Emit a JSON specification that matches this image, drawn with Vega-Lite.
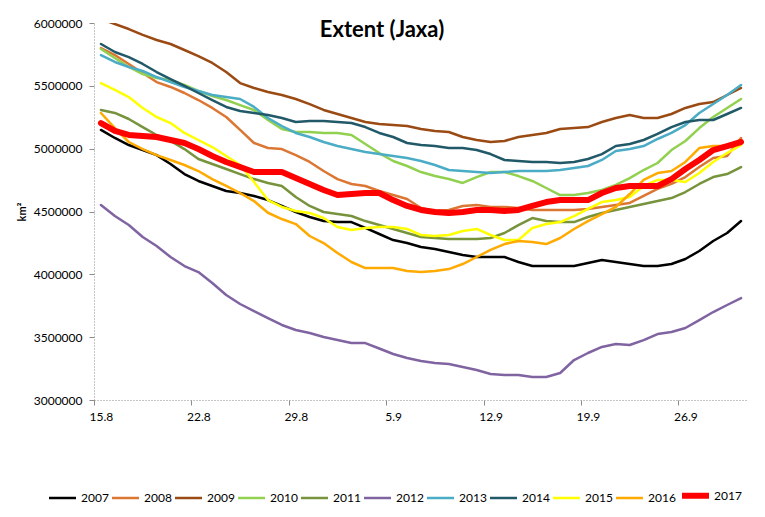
{
  "$schema": "https://vega.github.io/schema/vega-lite/v6.json",
  "width": 654,
  "height": 377,
  "autosize": {"type": "none"},
  "padding": {"left": 94, "top": 23, "right": 17, "bottom": 117},
  "background": "white",
  "title": {
    "text": "Extent (Jaxa)",
    "font": "Lato",
    "fontSize": 22,
    "fontWeight": "bold",
    "color": "#000000",
    "anchor": "middle",
    "frame": "group",
    "baseline": "alphabetic",
    "offset": 0,
    "dx": -39,
    "dy": 42
  },
  "config": {
    "view": {"stroke": null},
    "font": "Lato"
  },
  "datasets": {
    "extent": [
      {"year":"2007","day":0,"extent":5149000},{"year":"2007","day":1,"extent":5085000},{"year":"2007","day":2,"extent":5029000},{"year":"2007","day":3,"extent":4989000},{"year":"2007","day":4,"extent":4949000},{"year":"2007","day":5,"extent":4878000},{"year":"2007","day":6,"extent":4798000},{"year":"2007","day":7,"extent":4743000},{"year":"2007","day":8,"extent":4703000},{"year":"2007","day":9,"extent":4663000},
      {"year":"2007","day":10,"extent":4647000},{"year":"2007","day":11,"extent":4623000},{"year":"2007","day":12,"extent":4591000},{"year":"2007","day":13,"extent":4544000},{"year":"2007","day":14,"extent":4496000},{"year":"2007","day":15,"extent":4456000},{"year":"2007","day":16,"extent":4424000},{"year":"2007","day":17,"extent":4416000},{"year":"2007","day":18,"extent":4416000},{"year":"2007","day":19,"extent":4369000},
      {"year":"2007","day":20,"extent":4321000},{"year":"2007","day":21,"extent":4273000},{"year":"2007","day":22,"extent":4249000},{"year":"2007","day":23,"extent":4217000},{"year":"2007","day":24,"extent":4202000},{"year":"2007","day":25,"extent":4178000},{"year":"2007","day":26,"extent":4154000},{"year":"2007","day":27,"extent":4138000},{"year":"2007","day":28,"extent":4138000},{"year":"2007","day":29,"extent":4138000},
      {"year":"2007","day":30,"extent":4098000},{"year":"2007","day":31,"extent":4066000},{"year":"2007","day":32,"extent":4066000},{"year":"2007","day":33,"extent":4066000},{"year":"2007","day":34,"extent":4066000},{"year":"2007","day":35,"extent":4090000},{"year":"2007","day":36,"extent":4114000},{"year":"2007","day":37,"extent":4098000},{"year":"2007","day":38,"extent":4082000},{"year":"2007","day":39,"extent":4066000},
      {"year":"2007","day":40,"extent":4066000},{"year":"2007","day":41,"extent":4082000},{"year":"2007","day":42,"extent":4122000},{"year":"2007","day":43,"extent":4186000},{"year":"2007","day":44,"extent":4265000},{"year":"2007","day":45,"extent":4329000},{"year":"2007","day":46,"extent":4424000},

      {"year":"2008","day":0,"extent":5801000},{"year":"2008","day":1,"extent":5745000},{"year":"2008","day":2,"extent":5674000},{"year":"2008","day":3,"extent":5602000},{"year":"2008","day":4,"extent":5530000},{"year":"2008","day":5,"extent":5491000},{"year":"2008","day":6,"extent":5443000},{"year":"2008","day":7,"extent":5387000},{"year":"2008","day":8,"extent":5324000},{"year":"2008","day":9,"extent":5252000},
      {"year":"2008","day":10,"extent":5149000},{"year":"2008","day":11,"extent":5045000},{"year":"2008","day":12,"extent":5005000},{"year":"2008","day":13,"extent":4997000},{"year":"2008","day":14,"extent":4949000},{"year":"2008","day":15,"extent":4894000},{"year":"2008","day":16,"extent":4822000},{"year":"2008","day":17,"extent":4758000},{"year":"2008","day":18,"extent":4719000},{"year":"2008","day":19,"extent":4703000},
      {"year":"2008","day":20,"extent":4663000},{"year":"2008","day":21,"extent":4631000},{"year":"2008","day":22,"extent":4599000},{"year":"2008","day":23,"extent":4528000},{"year":"2008","day":24,"extent":4504000},{"year":"2008","day":25,"extent":4512000},{"year":"2008","day":26,"extent":4544000},{"year":"2008","day":27,"extent":4552000},{"year":"2008","day":28,"extent":4536000},{"year":"2008","day":29,"extent":4536000},
      {"year":"2008","day":30,"extent":4528000},{"year":"2008","day":31,"extent":4512000},{"year":"2008","day":32,"extent":4512000},{"year":"2008","day":33,"extent":4512000},{"year":"2008","day":34,"extent":4512000},{"year":"2008","day":35,"extent":4520000},{"year":"2008","day":36,"extent":4536000},{"year":"2008","day":37,"extent":4552000},{"year":"2008","day":38,"extent":4568000},{"year":"2008","day":39,"extent":4625000},
      {"year":"2008","day":40,"extent":4680000},{"year":"2008","day":41,"extent":4720000},{"year":"2008","day":42,"extent":4774000},{"year":"2008","day":43,"extent":4854000},{"year":"2008","day":44,"extent":4926000},{"year":"2008","day":45,"extent":4942000},{"year":"2008","day":46,"extent":5085000},

      {"year":"2009","day":0,"extent":6032000},{"year":"2009","day":1,"extent":5992000},{"year":"2009","day":2,"extent":5952000},{"year":"2009","day":3,"extent":5905000},{"year":"2009","day":4,"extent":5865000},{"year":"2009","day":5,"extent":5833000},{"year":"2009","day":6,"extent":5785000},{"year":"2009","day":7,"extent":5737000},{"year":"2009","day":8,"extent":5682000},{"year":"2009","day":9,"extent":5610000},
      {"year":"2009","day":10,"extent":5522000},{"year":"2009","day":11,"extent":5483000},{"year":"2009","day":12,"extent":5451000},{"year":"2009","day":13,"extent":5427000},{"year":"2009","day":14,"extent":5395000},{"year":"2009","day":15,"extent":5355000},{"year":"2009","day":16,"extent":5308000},{"year":"2009","day":17,"extent":5276000},{"year":"2009","day":18,"extent":5244000},{"year":"2009","day":19,"extent":5212000},
      {"year":"2009","day":20,"extent":5196000},{"year":"2009","day":21,"extent":5188000},{"year":"2009","day":22,"extent":5180000},{"year":"2009","day":23,"extent":5157000},{"year":"2009","day":24,"extent":5141000},{"year":"2009","day":25,"extent":5133000},{"year":"2009","day":26,"extent":5093000},{"year":"2009","day":27,"extent":5069000},{"year":"2009","day":28,"extent":5053000},{"year":"2009","day":29,"extent":5061000},
      {"year":"2009","day":30,"extent":5093000},{"year":"2009","day":31,"extent":5109000},{"year":"2009","day":32,"extent":5125000},{"year":"2009","day":33,"extent":5157000},{"year":"2009","day":34,"extent":5164000},{"year":"2009","day":35,"extent":5172000},{"year":"2009","day":36,"extent":5212000},{"year":"2009","day":37,"extent":5244000},{"year":"2009","day":38,"extent":5268000},{"year":"2009","day":39,"extent":5244000},
      {"year":"2009","day":40,"extent":5244000},{"year":"2009","day":41,"extent":5276000},{"year":"2009","day":42,"extent":5324000},{"year":"2009","day":43,"extent":5355000},{"year":"2009","day":44,"extent":5371000},{"year":"2009","day":45,"extent":5427000},{"year":"2009","day":46,"extent":5483000},

      {"year":"2010","day":0,"extent":5793000},{"year":"2010","day":1,"extent":5721000},{"year":"2010","day":2,"extent":5650000},{"year":"2010","day":3,"extent":5594000},{"year":"2010","day":4,"extent":5562000},{"year":"2010","day":5,"extent":5546000},{"year":"2010","day":6,"extent":5507000},{"year":"2010","day":7,"extent":5459000},{"year":"2010","day":8,"extent":5419000},{"year":"2010","day":9,"extent":5387000},
      {"year":"2010","day":10,"extent":5347000},{"year":"2010","day":11,"extent":5308000},{"year":"2010","day":12,"extent":5228000},{"year":"2010","day":13,"extent":5157000},{"year":"2010","day":14,"extent":5133000},{"year":"2010","day":15,"extent":5133000},{"year":"2010","day":16,"extent":5125000},{"year":"2010","day":17,"extent":5125000},{"year":"2010","day":18,"extent":5109000},{"year":"2010","day":19,"extent":5037000},
      {"year":"2010","day":20,"extent":4965000},{"year":"2010","day":21,"extent":4902000},{"year":"2010","day":22,"extent":4862000},{"year":"2010","day":23,"extent":4814000},{"year":"2010","day":24,"extent":4782000},{"year":"2010","day":25,"extent":4758000},{"year":"2010","day":26,"extent":4727000},{"year":"2010","day":27,"extent":4774000},{"year":"2010","day":28,"extent":4814000},{"year":"2010","day":29,"extent":4814000},
      {"year":"2010","day":30,"extent":4782000},{"year":"2010","day":31,"extent":4743000},{"year":"2010","day":32,"extent":4687000},{"year":"2010","day":33,"extent":4631000},{"year":"2010","day":34,"extent":4631000},{"year":"2010","day":35,"extent":4647000},{"year":"2010","day":36,"extent":4671000},{"year":"2010","day":37,"extent":4711000},{"year":"2010","day":38,"extent":4766000},{"year":"2010","day":39,"extent":4830000},
      {"year":"2010","day":40,"extent":4886000},{"year":"2010","day":41,"extent":4989000},{"year":"2010","day":42,"extent":5061000},{"year":"2010","day":43,"extent":5164000},{"year":"2010","day":44,"extent":5252000},{"year":"2010","day":45,"extent":5324000},{"year":"2010","day":46,"extent":5395000},

      {"year":"2011","day":0,"extent":5308000},{"year":"2011","day":1,"extent":5284000},{"year":"2011","day":2,"extent":5236000},{"year":"2011","day":3,"extent":5172000},{"year":"2011","day":4,"extent":5109000},{"year":"2011","day":5,"extent":5061000},{"year":"2011","day":6,"extent":4997000},{"year":"2011","day":7,"extent":4918000},{"year":"2011","day":8,"extent":4878000},{"year":"2011","day":9,"extent":4838000},
      {"year":"2011","day":10,"extent":4798000},{"year":"2011","day":11,"extent":4758000},{"year":"2011","day":12,"extent":4727000},{"year":"2011","day":13,"extent":4703000},{"year":"2011","day":14,"extent":4615000},{"year":"2011","day":15,"extent":4544000},{"year":"2011","day":16,"extent":4496000},{"year":"2011","day":17,"extent":4480000},{"year":"2011","day":18,"extent":4464000},{"year":"2011","day":19,"extent":4424000},
      {"year":"2011","day":20,"extent":4392000},{"year":"2011","day":21,"extent":4361000},{"year":"2011","day":22,"extent":4329000},{"year":"2011","day":23,"extent":4297000},{"year":"2011","day":24,"extent":4289000},{"year":"2011","day":25,"extent":4281000},{"year":"2011","day":26,"extent":4281000},{"year":"2011","day":27,"extent":4281000},{"year":"2011","day":28,"extent":4289000},{"year":"2011","day":29,"extent":4329000},
      {"year":"2011","day":30,"extent":4392000},{"year":"2011","day":31,"extent":4448000},{"year":"2011","day":32,"extent":4424000},{"year":"2011","day":33,"extent":4416000},{"year":"2011","day":34,"extent":4416000},{"year":"2011","day":35,"extent":4456000},{"year":"2011","day":36,"extent":4488000},{"year":"2011","day":37,"extent":4512000},{"year":"2011","day":38,"extent":4536000},{"year":"2011","day":39,"extent":4560000},
      {"year":"2011","day":40,"extent":4583000},{"year":"2011","day":41,"extent":4607000},{"year":"2011","day":42,"extent":4655000},{"year":"2011","day":43,"extent":4719000},{"year":"2011","day":44,"extent":4774000},{"year":"2011","day":45,"extent":4798000},{"year":"2011","day":46,"extent":4854000},

      {"year":"2012","day":0,"extent":4551000},{"year":"2012","day":1,"extent":4464000},{"year":"2012","day":2,"extent":4392000},{"year":"2012","day":3,"extent":4297000},{"year":"2012","day":4,"extent":4225000},{"year":"2012","day":5,"extent":4138000},{"year":"2012","day":6,"extent":4066000},{"year":"2012","day":7,"extent":4018000},{"year":"2012","day":8,"extent":3931000},{"year":"2012","day":9,"extent":3835000},
      {"year":"2012","day":10,"extent":3764000},{"year":"2012","day":11,"extent":3708000},{"year":"2012","day":12,"extent":3652000},{"year":"2012","day":13,"extent":3597000},{"year":"2012","day":14,"extent":3557000},{"year":"2012","day":15,"extent":3533000},{"year":"2012","day":16,"extent":3501000},{"year":"2012","day":17,"extent":3477000},{"year":"2012","day":18,"extent":3453000},{"year":"2012","day":19,"extent":3453000},
      {"year":"2012","day":20,"extent":3410000},{"year":"2012","day":21,"extent":3366000},{"year":"2012","day":22,"extent":3334000},{"year":"2012","day":23,"extent":3310000},{"year":"2012","day":24,"extent":3294000},{"year":"2012","day":25,"extent":3286000},{"year":"2012","day":26,"extent":3263000},{"year":"2012","day":27,"extent":3239000},{"year":"2012","day":28,"extent":3207000},{"year":"2012","day":29,"extent":3199000},
      {"year":"2012","day":30,"extent":3199000},{"year":"2012","day":31,"extent":3183000},{"year":"2012","day":32,"extent":3183000},{"year":"2012","day":33,"extent":3215000},{"year":"2012","day":34,"extent":3318000},{"year":"2012","day":35,"extent":3374000},{"year":"2012","day":36,"extent":3422000},{"year":"2012","day":37,"extent":3446000},{"year":"2012","day":38,"extent":3438000},{"year":"2012","day":39,"extent":3477000},
      {"year":"2012","day":40,"extent":3525000},{"year":"2012","day":41,"extent":3541000},{"year":"2012","day":42,"extent":3573000},{"year":"2012","day":43,"extent":3636000},{"year":"2012","day":44,"extent":3700000},{"year":"2012","day":45,"extent":3756000},{"year":"2012","day":46,"extent":3811000},

      {"year":"2013","day":0,"extent":5745000},{"year":"2013","day":1,"extent":5690000},{"year":"2013","day":2,"extent":5650000},{"year":"2013","day":3,"extent":5618000},{"year":"2013","day":4,"extent":5570000},{"year":"2013","day":5,"extent":5530000},{"year":"2013","day":6,"extent":5491000},{"year":"2013","day":7,"extent":5459000},{"year":"2013","day":8,"extent":5427000},{"year":"2013","day":9,"extent":5411000},
      {"year":"2013","day":10,"extent":5395000},{"year":"2013","day":11,"extent":5332000},{"year":"2013","day":12,"extent":5244000},{"year":"2013","day":13,"extent":5180000},{"year":"2013","day":14,"extent":5125000},{"year":"2013","day":15,"extent":5093000},{"year":"2013","day":16,"extent":5053000},{"year":"2013","day":17,"extent":5021000},{"year":"2013","day":18,"extent":4997000},{"year":"2013","day":19,"extent":4973000},
      {"year":"2013","day":20,"extent":4957000},{"year":"2013","day":21,"extent":4942000},{"year":"2013","day":22,"extent":4926000},{"year":"2013","day":23,"extent":4902000},{"year":"2013","day":24,"extent":4870000},{"year":"2013","day":25,"extent":4830000},{"year":"2013","day":26,"extent":4822000},{"year":"2013","day":27,"extent":4814000},{"year":"2013","day":28,"extent":4806000},{"year":"2013","day":29,"extent":4814000},
      {"year":"2013","day":30,"extent":4822000},{"year":"2013","day":31,"extent":4822000},{"year":"2013","day":32,"extent":4822000},{"year":"2013","day":33,"extent":4830000},{"year":"2013","day":34,"extent":4846000},{"year":"2013","day":35,"extent":4862000},{"year":"2013","day":36,"extent":4910000},{"year":"2013","day":37,"extent":4981000},{"year":"2013","day":38,"extent":4997000},{"year":"2013","day":39,"extent":5021000},
      {"year":"2013","day":40,"extent":5077000},{"year":"2013","day":41,"extent":5125000},{"year":"2013","day":42,"extent":5188000},{"year":"2013","day":43,"extent":5284000},{"year":"2013","day":44,"extent":5355000},{"year":"2013","day":45,"extent":5427000},{"year":"2013","day":46,"extent":5507000},

      {"year":"2014","day":0,"extent":5833000},{"year":"2014","day":1,"extent":5769000},{"year":"2014","day":2,"extent":5729000},{"year":"2014","day":3,"extent":5674000},{"year":"2014","day":4,"extent":5610000},{"year":"2014","day":5,"extent":5554000},{"year":"2014","day":6,"extent":5499000},{"year":"2014","day":7,"extent":5443000},{"year":"2014","day":8,"extent":5387000},{"year":"2014","day":9,"extent":5332000},
      {"year":"2014","day":10,"extent":5300000},{"year":"2014","day":11,"extent":5284000},{"year":"2014","day":12,"extent":5268000},{"year":"2014","day":13,"extent":5244000},{"year":"2014","day":14,"extent":5212000},{"year":"2014","day":15,"extent":5220000},{"year":"2014","day":16,"extent":5220000},{"year":"2014","day":17,"extent":5212000},{"year":"2014","day":18,"extent":5204000},{"year":"2014","day":19,"extent":5172000},
      {"year":"2014","day":20,"extent":5125000},{"year":"2014","day":21,"extent":5093000},{"year":"2014","day":22,"extent":5045000},{"year":"2014","day":23,"extent":5029000},{"year":"2014","day":24,"extent":5021000},{"year":"2014","day":25,"extent":5005000},{"year":"2014","day":26,"extent":5005000},{"year":"2014","day":27,"extent":4989000},{"year":"2014","day":28,"extent":4957000},{"year":"2014","day":29,"extent":4910000},
      {"year":"2014","day":30,"extent":4902000},{"year":"2014","day":31,"extent":4894000},{"year":"2014","day":32,"extent":4894000},{"year":"2014","day":33,"extent":4886000},{"year":"2014","day":34,"extent":4894000},{"year":"2014","day":35,"extent":4918000},{"year":"2014","day":36,"extent":4957000},{"year":"2014","day":37,"extent":5021000},{"year":"2014","day":38,"extent":5037000},{"year":"2014","day":39,"extent":5069000},
      {"year":"2014","day":40,"extent":5117000},{"year":"2014","day":41,"extent":5172000},{"year":"2014","day":42,"extent":5212000},{"year":"2014","day":43,"extent":5228000},{"year":"2014","day":44,"extent":5228000},{"year":"2014","day":45,"extent":5276000},{"year":"2014","day":46,"extent":5324000},

      {"year":"2015","day":0,"extent":5522000},{"year":"2015","day":1,"extent":5467000},{"year":"2015","day":2,"extent":5411000},{"year":"2015","day":3,"extent":5324000},{"year":"2015","day":4,"extent":5252000},{"year":"2015","day":5,"extent":5204000},{"year":"2015","day":6,"extent":5125000},{"year":"2015","day":7,"extent":5069000},{"year":"2015","day":8,"extent":5013000},{"year":"2015","day":9,"extent":4942000},
      {"year":"2015","day":10,"extent":4870000},{"year":"2015","day":11,"extent":4735000},{"year":"2015","day":12,"extent":4591000},{"year":"2015","day":13,"extent":4536000},{"year":"2015","day":14,"extent":4504000},{"year":"2015","day":15,"extent":4488000},{"year":"2015","day":16,"extent":4448000},{"year":"2015","day":17,"extent":4377000},{"year":"2015","day":18,"extent":4353000},{"year":"2015","day":19,"extent":4369000},
      {"year":"2015","day":20,"extent":4377000},{"year":"2015","day":21,"extent":4377000},{"year":"2015","day":22,"extent":4361000},{"year":"2015","day":23,"extent":4313000},{"year":"2015","day":24,"extent":4305000},{"year":"2015","day":25,"extent":4313000},{"year":"2015","day":26,"extent":4345000},{"year":"2015","day":27,"extent":4361000},{"year":"2015","day":28,"extent":4313000},{"year":"2015","day":29,"extent":4273000},
      {"year":"2015","day":30,"extent":4273000},{"year":"2015","day":31,"extent":4369000},{"year":"2015","day":32,"extent":4400000},{"year":"2015","day":33,"extent":4416000},{"year":"2015","day":34,"extent":4464000},{"year":"2015","day":35,"extent":4520000},{"year":"2015","day":36,"extent":4575000},{"year":"2015","day":37,"extent":4591000},{"year":"2015","day":38,"extent":4615000},{"year":"2015","day":39,"extent":4703000},
      {"year":"2015","day":40,"extent":4751000},{"year":"2015","day":41,"extent":4751000},{"year":"2015","day":42,"extent":4735000},{"year":"2015","day":43,"extent":4806000},{"year":"2015","day":44,"extent":4894000},{"year":"2015","day":45,"extent":4965000},{"year":"2015","day":46,"extent":5029000},

      {"year":"2016","day":0,"extent":5284000},{"year":"2016","day":1,"extent":5164000},{"year":"2016","day":2,"extent":5053000},{"year":"2016","day":3,"extent":4997000},{"year":"2016","day":4,"extent":4949000},{"year":"2016","day":5,"extent":4910000},{"year":"2016","day":6,"extent":4870000},{"year":"2016","day":7,"extent":4822000},{"year":"2016","day":8,"extent":4758000},{"year":"2016","day":9,"extent":4703000},
      {"year":"2016","day":10,"extent":4647000},{"year":"2016","day":11,"extent":4583000},{"year":"2016","day":12,"extent":4490000},{"year":"2016","day":13,"extent":4440000},{"year":"2016","day":14,"extent":4400000},{"year":"2016","day":15,"extent":4305000},{"year":"2016","day":16,"extent":4249000},{"year":"2016","day":17,"extent":4170000},{"year":"2016","day":18,"extent":4098000},{"year":"2016","day":19,"extent":4050000},
      {"year":"2016","day":20,"extent":4050000},{"year":"2016","day":21,"extent":4050000},{"year":"2016","day":22,"extent":4026000},{"year":"2016","day":23,"extent":4018000},{"year":"2016","day":24,"extent":4026000},{"year":"2016","day":25,"extent":4042000},{"year":"2016","day":26,"extent":4082000},{"year":"2016","day":27,"extent":4138000},{"year":"2016","day":28,"extent":4194000},{"year":"2016","day":29,"extent":4241000},
      {"year":"2016","day":30,"extent":4265000},{"year":"2016","day":31,"extent":4257000},{"year":"2016","day":32,"extent":4241000},{"year":"2016","day":33,"extent":4289000},{"year":"2016","day":34,"extent":4361000},{"year":"2016","day":35,"extent":4424000},{"year":"2016","day":36,"extent":4480000},{"year":"2016","day":37,"extent":4536000},{"year":"2016","day":38,"extent":4639000},{"year":"2016","day":39,"extent":4751000},
      {"year":"2016","day":40,"extent":4806000},{"year":"2016","day":41,"extent":4822000},{"year":"2016","day":42,"extent":4894000},{"year":"2016","day":43,"extent":5005000},{"year":"2016","day":44,"extent":5021000},{"year":"2016","day":45,"extent":5021000},{"year":"2016","day":46,"extent":5069000},

      {"year":"2017","day":0,"extent":5204000},{"year":"2017","day":1,"extent":5141000},{"year":"2017","day":2,"extent":5109000},{"year":"2017","day":3,"extent":5101000},{"year":"2017","day":4,"extent":5093000},{"year":"2017","day":5,"extent":5069000},{"year":"2017","day":6,"extent":5045000},{"year":"2017","day":7,"extent":4997000},{"year":"2017","day":8,"extent":4942000},{"year":"2017","day":9,"extent":4894000},
      {"year":"2017","day":10,"extent":4854000},{"year":"2017","day":11,"extent":4814000},{"year":"2017","day":12,"extent":4814000},{"year":"2017","day":13,"extent":4814000},{"year":"2017","day":14,"extent":4766000},{"year":"2017","day":15,"extent":4719000},{"year":"2017","day":16,"extent":4671000},{"year":"2017","day":17,"extent":4631000},{"year":"2017","day":18,"extent":4639000},{"year":"2017","day":19,"extent":4647000},
      {"year":"2017","day":20,"extent":4647000},{"year":"2017","day":21,"extent":4591000},{"year":"2017","day":22,"extent":4544000},{"year":"2017","day":23,"extent":4512000},{"year":"2017","day":24,"extent":4496000},{"year":"2017","day":25,"extent":4488000},{"year":"2017","day":26,"extent":4496000},{"year":"2017","day":27,"extent":4512000},{"year":"2017","day":28,"extent":4512000},{"year":"2017","day":29,"extent":4504000},
      {"year":"2017","day":30,"extent":4512000},{"year":"2017","day":31,"extent":4544000},{"year":"2017","day":32,"extent":4575000},{"year":"2017","day":33,"extent":4591000},{"year":"2017","day":34,"extent":4591000},{"year":"2017","day":35,"extent":4591000},{"year":"2017","day":36,"extent":4647000},{"year":"2017","day":37,"extent":4687000},{"year":"2017","day":38,"extent":4703000},{"year":"2017","day":39,"extent":4703000},
      {"year":"2017","day":40,"extent":4703000},{"year":"2017","day":41,"extent":4758000},{"year":"2017","day":42,"extent":4838000},{"year":"2017","day":43,"extent":4910000},{"year":"2017","day":44,"extent":4989000},{"year":"2017","day":45,"extent":5021000},{"year":"2017","day":46,"extent":5053000}
    ]
  },
  "data": {"name": "extent"},
  "mark": {"type": "line", "clip": true, "strokeJoin": "round", "strokeCap": "round"},
  "encoding": {
    "x": {
      "field": "day",
      "type": "quantitative",
      "scale": {"domain": [-0.5, 46.5], "nice": false, "zero": false},
      "axis": {
        "title": null,
        "grid": false,
        "values": [0, 7, 14, 21, 28, 35, 42],
        "labelExpr": "['15.8','22.8','29.8','5.9','12.9','19.9','26.9'][round(datum.value / 7)]",
        "tickOffset": -7,
        "labelOffset": 7,
        "tickSize": 5,
        "labelPadding": 6,
        "labelFont": "Lato",
        "labelFontSize": 12,
        "labelColor": "#000000",
        "labelFlush": false,
        "domainColor": "#8c8c8c",
        "domainDash": [1, 2],
        "tickColor": "#8c8c8c"
      }
    },
    "y": {
      "field": "extent",
      "type": "quantitative",
      "scale": {"domain": [3000000, 6000000], "nice": false, "zero": false},
      "axis": {
        "title": "km²",
        "titleFont": "Lato",
        "titleFontSize": 11,
        "titleFontWeight": "bold",
        "titleColor": "#000000",
        "titlePadding": 6,
        "grid": false,
        "values": [3000000, 3500000, 4000000, 4500000, 5000000, 5500000, 6000000],
        "format": "d",
        "tickSize": 5,
        "labelPadding": 7,
        "labelFont": "Lato",
        "labelFontSize": 12,
        "labelColor": "#000000",
        "labelFlush": false,
        "domainColor": "#8c8c8c",
        "domainDash": [1, 2],
        "tickColor": "#8c8c8c"
      }
    },
    "color": {
      "field": "year",
      "type": "nominal",
      "scale": {
        "domain": ["2007", "2008", "2009", "2010", "2011", "2012", "2013", "2014", "2015", "2016", "2017"],
        "range": ["#000000", "#DC7633", "#9A4A12", "#92D050", "#77933C", "#8064A2", "#4BACC6", "#215968", "#FFFF00", "#FFAA00", "#FF0000"]
      },
      "legend": {
        "title": null,
        "orient": "none",
        "legendX": -48,
        "legendY": 456,
        "direction": "horizontal",
        "columns": 11,
        "symbolType": "stroke",
        "symbolSize": 729,
        "labelFont": "Lato",
        "labelFontSize": 12,
        "labelColor": "#000000",
        "labelOffset": 2,
        "columnPadding": -6
      }
    },
    "strokeWidth": {
      "field": "year",
      "type": "nominal",
      "scale": {
        "type": "ordinal",
        "domain": ["2007", "2008", "2009", "2010", "2011", "2012", "2013", "2014", "2015", "2016", "2017"],
        "range": [2.5, 2.5, 2.5, 2.5, 2.5, 2.5, 2.5, 2.5, 2.5, 2.5, 6]
      }
    }
  }
}
